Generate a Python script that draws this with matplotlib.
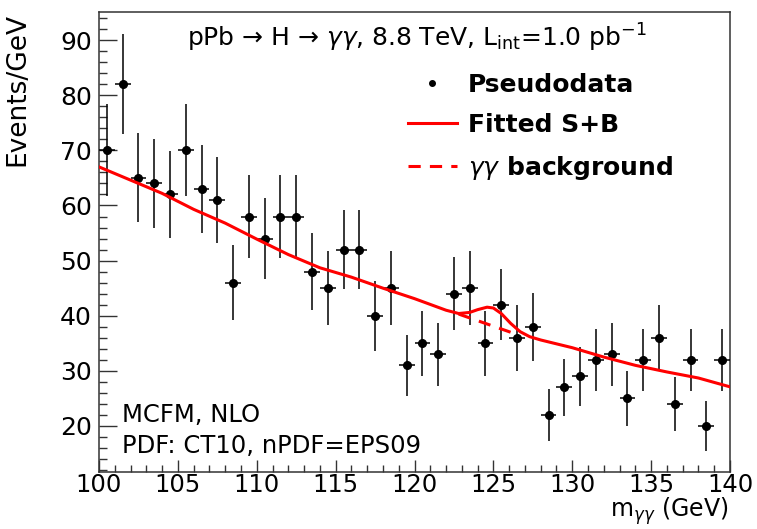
import numpy as np
import matplotlib
matplotlib.use("Agg")
import matplotlib.pyplot as plt
from matplotlib.ticker import MultipleLocator
from matplotlib.lines import Line2D

# ---- data ----
bin_centers = np.arange(100.5, 140.0, 1.0)
counts = [70, 82, 65, 64, 62, 70, 63, 61, 46, 58,
          54, 58, 58, 48, 45, 52, 52, 40, 45, 31,
          35, 33, 44, 45, 35, 42, 36, 38, 22, 27,
          29, 32, 33, 25, 32, 36, 24, 32, 20, 32]

sb_x = [100, 102, 104, 106, 108, 110, 112, 114, 116, 118, 120, 122,
        122.8, 123.5, 124.0, 124.6, 125.0, 125.5, 126.1, 126.7, 127.3,
        128, 130, 132, 134, 136, 138, 140]
sb_y = [67.0, 64.6, 62.2, 59.3, 56.8, 53.9, 51.1, 48.7, 47.0, 45.0, 43.1, 41.0,
        40.4, 40.6, 41.1, 41.55, 41.4, 40.4, 38.6, 37.1, 36.2,
        35.6, 34.2, 32.5, 31.0, 29.8, 28.7, 27.1]

bkg_x = [122.8, 124.0, 125.2, 126.4]
bkg_y = [40.3, 39.1, 37.9, 36.7]

xticks = [100, 105, 110, 115, 120, 125, 130, 135, 140]
yticks = [20, 30, 40, 50, 60, 70, 80, 90]

plt.rcParams['font.family'] = ['DejaVu Sans']
plt.rcParams['mathtext.fontset'] = 'dejavusans'

fig = plt.figure(figsize=(7.57, 5.29), dpi=100)
ax = fig.add_axes([99/757, 1-472/529, 631/757, 460/529])

ax.errorbar(bin_centers, counts, xerr=0.5, yerr=np.sqrt(counts), fmt='o',
            color='black', ms=5.5, elinewidth=1.1, capsize=0, zorder=3)
ax.plot(sb_x, sb_y, color='#ff0000', lw=2.2, zorder=4)
ax.plot(bkg_x, bkg_y, color='#ff0000', lw=2.2, ls=(0, (4, 3)), zorder=4)

ax.set_xlim(100, 140)
ax.set_ylim(11.65, 95.1)
ax.set_xticks(xticks)
ax.set_yticks(yticks)
ax.xaxis.set_minor_locator(MultipleLocator(1))
ax.yaxis.set_minor_locator(MultipleLocator(2))
ax.tick_params(axis='both', which='both', direction='in', top=False, right=False,
               labelsize=18, width=1.0, color='#333333')
ax.tick_params(axis='x', which='major', length=9, pad=1, labelsize=17.5)
ax.tick_params(axis='x', which='minor', length=5)
ax.tick_params(axis='y', which='major', length=13, pad=5)
ax.tick_params(axis='y', which='minor', length=6)
for s in ax.spines.values():
    s.set_linewidth(1.1)
    s.set_color('#333333')

ax.set_xlabel(r'm$_{\gamma\gamma}$ (GeV)', fontsize=17, loc='right', va='bottom')
ax.xaxis.set_label_coords(0.997, -0.1205)
ax.set_ylabel('Events/GeV', fontsize=19, loc='top')
ax.yaxis.set_label_coords(-0.108, 0.997)

ax.text(0.1395, 0.924,
        r'pPb → H → $\gamma\gamma$, 8.8 TeV, L$_{\mathrm{int}}$=1.0 pb$^{\mathrm{-1}}$',
        transform=ax.transAxes, fontsize=18, ha='left', va='baseline')
ax.text(0.0365, 0.109, 'MCFM, NLO', transform=ax.transAxes, fontsize=17.5,
        ha='left', va='baseline')
ax.text(0.0365, 0.042, 'PDF: CT10, nPDF=EPS09', transform=ax.transAxes,
        fontsize=17.5, ha='left', va='baseline')

handles = [
    Line2D([], [], marker='o', ls='none', color='black', ms=4),
    Line2D([], [], color='#ff0000', lw=2.2),
    Line2D([], [], color='#ff0000', lw=2.2, ls=(0, (4, 3))),
]
labels = ['Pseudodata', 'Fitted S+B', r'$\gamma\gamma$ background']
ax.legend(handles, labels, loc='upper left', bbox_to_anchor=(0.4897, 0.868),
          frameon=False, prop={'weight': 'bold', 'size': 18},
          handlelength=1.95, handletextpad=0.45, labelspacing=0.66,
          borderaxespad=0, borderpad=0)

fig.savefig('out.png', dpi=100)
